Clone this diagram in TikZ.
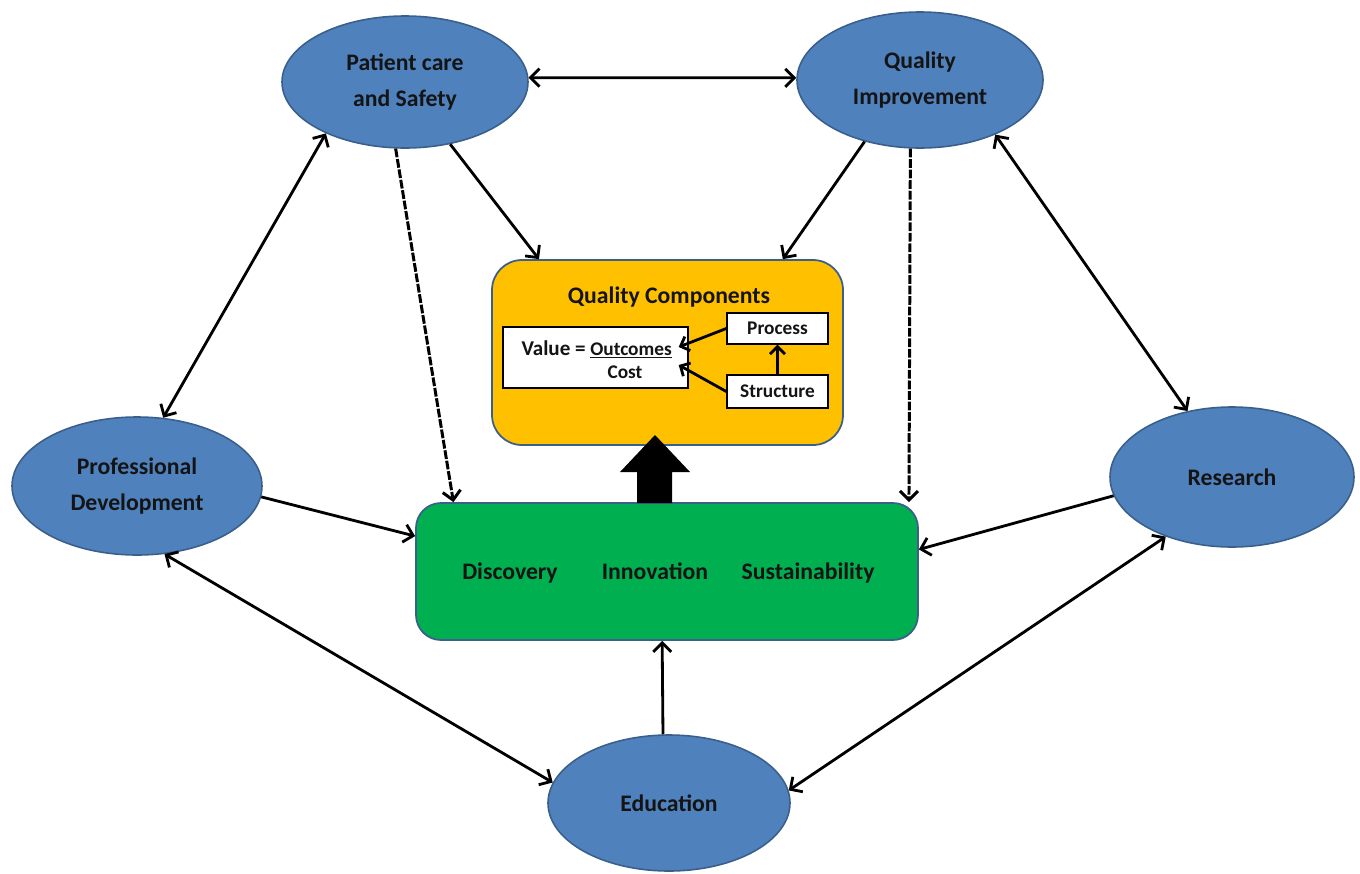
\documentclass[tikz,border=0pt]{standalone}
\usepackage{fontspec}
\setmainfont{Carlito}
\usetikzlibrary{arrows.meta,calc,shapes.geometric}
\definecolor{ellblue}{HTML}{4F81BD}
\definecolor{edgeblue}{HTML}{3A5F8B}
\definecolor{qorange}{HTML}{FFC000}
\definecolor{dgreen}{HTML}{00B050}
\definecolor{txt}{HTML}{141414}
\newcommand\ellfont{\fontsize{13.5}{20.4}\selectfont\bfseries}
\newcommand\smallfnt{\fontsize{11}{13}\selectfont\bfseries}
\begin{document}
\begin{tikzpicture}[x=0.02cm,y=-0.02cm,
  ell/.style={ellipse, draw=edgeblue, line width=0.9pt, fill=ellblue, inner sep=0pt, align=center, text=txt, font=\ellfont},
  lbl/.style={inner sep=0pt, text=txt, font=\ellfont},
  sbox/.style={draw=black, line width=0.8pt, fill=white, inner sep=0pt, text=txt, font=\smallfnt},
  stxt/.style={inner sep=0pt, text=txt, font=\smallfnt},
  tipb/.tip={Straight Barb[length=1.8mm,width=3.6mm]},
  conn/.style={line width=1.6pt, draw=black, -tipb},
  bidir/.style={line width=1.6pt, draw=black, tipb-tipb},
  dashconn/.style={line width=1.7pt, draw=black, -tipb, dash pattern=on 5pt off 1pt},
  iconn/.style={line width=1.6pt, draw=black, -{Straight Barb[length=1.5mm,width=3mm]}}
]
\useasboundingbox (0,0) rectangle (1360,873);

% ellipses
\node[ell, minimum width=246*0.02cm, minimum height=132*0.02cm] (pc) at (405,82) {Patient care\\and Safety};
\node[ell, minimum width=246*0.02cm, minimum height=136*0.02cm] (qi) at (920,80) {Quality\\Improvement};
\node[ell, minimum width=250*0.02cm, minimum height=138*0.02cm] (pd) at (137,486) {Professional\\Development};
\node[ell, minimum width=244*0.02cm, minimum height=140*0.02cm] (rs) at (1232,477) {Research};
\node[ell, minimum width=242*0.02cm, minimum height=136*0.02cm] (ed) at (669,803) {Education};

% quality components box
\node[draw=edgeblue, line width=1pt, fill=qorange, rounded corners=0.6cm, minimum width=351*0.02cm, minimum height=185*0.02cm, inner sep=0pt] (qc) at (667.5,352.5) {};
\node[lbl] (qct) at (669,297) {Quality Components};
\node[sbox, minimum width=185*0.02cm, minimum height=61*0.02cm] (val) at (595.5,357.5) {};
\node[stxt, anchor=base east, font=\fontsize{12}{14}\selectfont\bfseries] (vtx) at (586,355) {Value =};
\node[stxt, anchor=base west] (out) at (590,355) {\underline{Outcomes}};
\node[stxt, anchor=base] (cost) at (625,378) {Cost};
\node[sbox, minimum width=101*0.02cm, minimum height=31*0.02cm] (pr) at (777.5,328.5) {Process};
\node[sbox, minimum width=101*0.02cm, minimum height=33*0.02cm] (st) at (777.5,391.5) {Structure};
\draw[iconn] (pr.west) -- ($(val.east)+(-10,-10.5)$);
\draw[iconn] (st.west) -- ($(val.east)+(-10,7.5)$);
\draw[iconn] (st.north) -- (pr.south);

% green box
\node[draw=edgeblue, line width=1pt, fill=dgreen, rounded corners=0.5cm, minimum width=502*0.02cm, minimum height=137*0.02cm, inner sep=0pt] (dc) at (667,571.5) {};
\node[lbl, anchor=base] (disc) at (510,579) {Discovery};
\node[lbl, anchor=base] (inno) at (655,579) {Innovation};
\node[lbl, anchor=base] (sust) at (808,579) {Sustainability};

% fat arrow
\fill[black] (637,503) -- (637,472) -- (620,472) -- (655,435) -- (690,472) -- (672,472) -- (672,503) -- cycle;

% connectors
\draw[bidir] (pc.2) -- (qi.179);
\draw[bidir] (pc.213) -- (pd.69);
\draw[conn] (pc.-54.5) -- (qc.144);
\draw[dashconn] (pc.262) -- (dc.162.7);
\draw[conn] (qi.228) -- (qc.39.9);
\draw[dashconn] (qi.262) -- (dc.16.6);
\draw[bidir] (qi.-36) -- (rs.124);
\draw[conn] (pd.-5) -- (dc.172.9);
\draw[conn] (rs.189.3) -- (dc.5.6);
\draw[bidir] (pd.-68.5) -- (ed.170.9);
\draw[bidir] (rs.222.5) -- (ed.6.7);
\draw[conn] (ed.95.3) -- (dc.266.7);
\end{tikzpicture}
\end{document}
